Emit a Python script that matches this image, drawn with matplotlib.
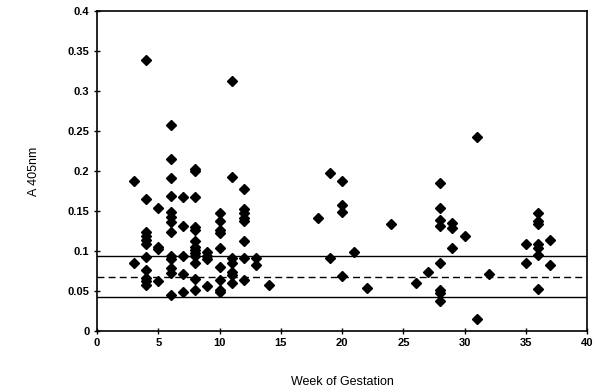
import matplotlib
matplotlib.use("Agg")

import matplotlib.pyplot as plt

plt.rcParams["font.family"] = ["Liberation Sans", "DejaVu Sans"]

# A405 readings grouped by week of gestation
weeks = [3, 4, 5, 6, 7, 8, 9, 10, 11, 12, 13, 14,
         18, 19, 20, 21, 22, 24, 26, 27, 28, 29, 30, 31, 32, 35, 36, 37]
readings = [
    [0.188, 0.085],
    [0.339, 0.165, 0.124, 0.119, 0.114, 0.108, 0.092, 0.076, 0.066, 0.0625, 0.0575],
    [0.154, 0.105, 0.1025, 0.0625],
    [0.257, 0.215, 0.191, 0.169, 0.149, 0.142, 0.136, 0.124, 0.094, 0.090, 0.078, 0.072, 0.045],
    [0.168, 0.131, 0.094, 0.071, 0.049],
    [0.203, 0.200, 0.168, 0.130, 0.126, 0.112, 0.105, 0.101, 0.0975, 0.094, 0.085, 0.065, 0.051],
    [0.099, 0.094, 0.090, 0.056],
    [0.147, 0.137, 0.126, 0.122, 0.103, 0.080, 0.064, 0.051, 0.048],
    [0.3125, 0.192, 0.091, 0.085, 0.074, 0.070, 0.060],
    [0.178, 0.152, 0.147, 0.141, 0.137, 0.1125, 0.091, 0.064],
    [0.091, 0.0825],
    [0.0575],
    [0.141],
    [0.198, 0.091],
    [0.187, 0.157, 0.148, 0.069],
    [0.098],
    [0.054],
    [0.134],
    [0.060],
    [0.074],
    [0.185, 0.153, 0.139, 0.131, 0.085, 0.051, 0.047, 0.037],
    [0.135, 0.128, 0.104],
    [0.118],
    [0.242, 0.015],
    [0.071],
    [0.109, 0.085],
    [0.147, 0.137, 0.133, 0.108, 0.104, 0.095, 0.052],
    [0.113, 0.082],
]

# reference lines: mean (dashed) and limits (solid)
upper_limit = 0.094
mean_level = 0.067
lower_limit = 0.0425

xs, ys = [], []
for w, vals in zip(weeks, readings):
    for v in vals:
        xs.append(w)
        ys.append(v)

fig = plt.figure(figsize=(5.95, 3.92), dpi=100)
ax = fig.add_axes([0.163, 0.156, 0.824, 0.816])

ax.axhline(upper_limit, color="black", lw=1.0)
ax.axhline(mean_level, color="black", lw=1.0, ls=(0, (5, 3)))
ax.axhline(lower_limit, color="black", lw=1.0)

ax.plot(xs, ys, "D", color="black", ms=5.3, zorder=3)

ax.set_xlim(0, 40)
ax.set_ylim(0, 0.4)
ax.set_xticks(range(0, 41, 5))
ax.set_yticks([0, 0.05, 0.1, 0.15, 0.2, 0.25, 0.3, 0.35, 0.4])
ax.set_yticklabels(["0", "0.05", "0.1", "0.15", "0.2", "0.25", "0.3", "0.35", "0.4"])
ax.tick_params(direction="inout", length=4, width=1, labelsize=8)
for lab in ax.get_xticklabels() + ax.get_yticklabels():
    lab.set_fontweight("bold")
for s in ax.spines.values():
    s.set_linewidth(1.2)

ax.set_xlabel("Week of Gestation", fontsize=9, labelpad=20)
ax.set_ylabel("A 405nm", fontsize=9, labelpad=20)

fig.savefig("out.png", dpi=100)
